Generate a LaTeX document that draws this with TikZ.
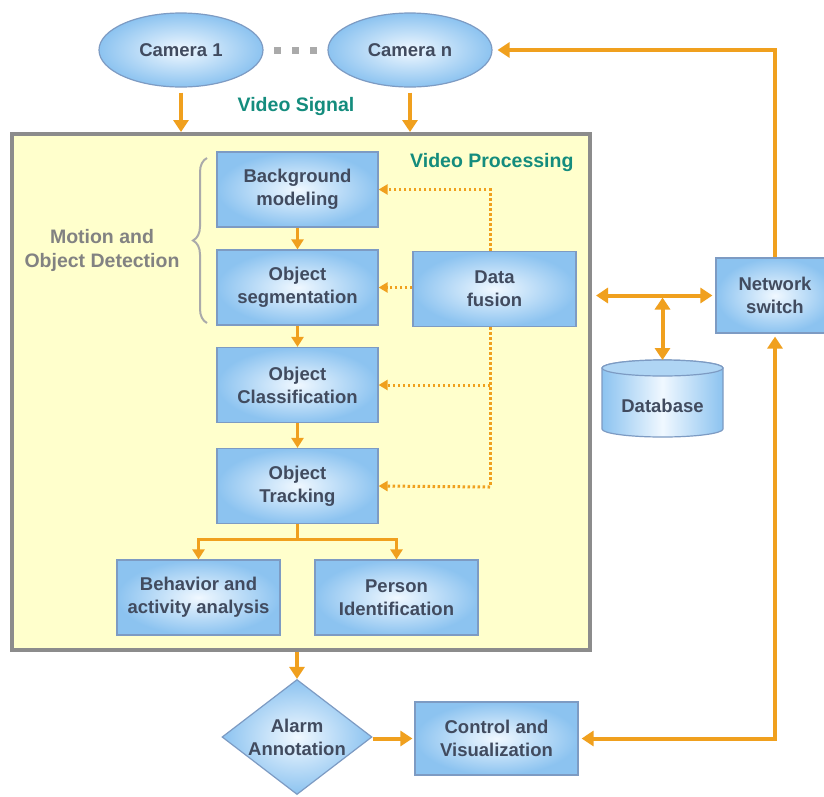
\documentclass[tikz,border=0pt]{standalone}
\usepackage{fontspec}
\setmainfont{Liberation Sans}
\usetikzlibrary{arrows.meta,shapes.geometric,decorations.pathreplacing,calc}
\definecolor{arr}{RGB}{240,160,30}
\definecolor{boxedge}{RGB}{125,155,195}
\definecolor{boxout}{RGB}{140,195,240}
\definecolor{boxin}{RGB}{240,248,255}
\definecolor{txt}{RGB}{65,75,95}
\definecolor{tealtxt}{RGB}{20,140,125}
\definecolor{panelfill}{RGB}{255,255,204}
\definecolor{paneledge}{RGB}{140,140,140}
\definecolor{bracegrey}{RGB}{170,170,170}
\definecolor{modgrey}{RGB}{130,130,130}
\begin{document}
\begin{tikzpicture}[x=1pt,y=-1pt,
  lbl/.style={font=\bfseries\fontsize{18.5}{23}\selectfont,text=txt,align=center},
  box/.style={lbl,rectangle,draw=boxedge,line width=1.2,inner color=boxin,outer color=boxout,minimum width=161,minimum height=75,inner sep=0},
  bigarr/.style={draw=arr,line width=4,-{Triangle[length=12pt,width=15pt]}},
  smarr/.style={draw=arr,line width=3,-{Triangle[length=10pt,width=12pt]}},
  smline/.style={draw=arr,line width=3},
  dotarr/.style={draw=arr,line width=3,dash pattern=on 2.5pt off 2.5pt,-{Triangle[length=9pt,width=10pt]}},
  dotline/.style={draw=arr,line width=3,dash pattern=on 2.5pt off 2.5pt},
  teallbl/.style={font=\bfseries\fontsize{19.5}{22}\selectfont,text=tealtxt}
]
\useasboundingbox (0,0) rectangle (824,796);
\fill[white] (0,0) rectangle (824,796);

% panel
\node[draw=paneledge,line width=4,fill=panelfill,minimum width=578,minimum height=516,inner sep=0] (vp) at (301,392) {};

% cameras
\node[lbl,ellipse,draw=boxedge,line width=1.2,inner color=boxin,outer color=boxout,minimum width=164,minimum height=74] (cam1) at (181,50) {Camera 1};
\node[lbl,ellipse,draw=boxedge,line width=1.2,inner color=boxin,outer color=boxout,minimum width=164,minimum height=74] (camn) at (410,50) {Camera n};
\foreach \xx in {277,295,313} \fill[bracegrey] (\xx-3.5,46.5) rectangle (\xx+3.5,53.5);

\node[teallbl] (vs) at (296,106) {Video Signal};
\node[teallbl,anchor=east] (vpl) at (577,162) {Video Processing};

% boxes
\node[box] (bg) at (297.5,189.5) {Background\\modeling};
\node[box] (seg) at (297.5,287.5) {Object\\segmentation};
\node[box] (cls) at (297.5,385) {Object\\Classification};
\node[box] (trk) at (297.5,486) {Object\\Tracking};
\node[box,minimum width=163] (fus) at (494.5,289) {Data\\fusion};
\node[box,minimum width=118] (sw) at (775,295.5) {Network\\switch};
\node[box,minimum width=163] (beh) at (198.5,597.5) {Behavior and\\activity analysis};
\node[box,minimum width=163] (per) at (396.5,597.5) {Person\\Identification};
\node[box,minimum width=163,minimum height=73] (ctl) at (496.5,738.5) {Control and\\Visualization};

% diamond
\node[diamond,draw=boxedge,line width=1.2,inner color=boxin,outer color=boxout,minimum width=150,minimum height=115,inner sep=0] (alarm) at (297,737) {};
\node[lbl] (alarmtxt) at (alarm.center) {Alarm\\Annotation};

% database cylinder
\path[draw=boxedge,line width=1.2,left color=boxout,right color=boxout,middle color=boxin]
  (602,368) -- (602,429) arc[start angle=180,end angle=360,x radius=60.5pt,y radius=8pt]
  -- (723,368) arc[start angle=0,end angle=180,x radius=60.5pt,y radius=8pt] -- cycle;
\draw[boxedge,line width=1.2,fill=boxout!70!white] (662.5,368) ellipse[x radius=60.5pt,y radius=8pt];
\node[lbl] (db) at (662.5,406) {Database};
\coordinate (dbtop) at (662.5,360);

% motion and object detection
\node[font=\bfseries\fontsize{19.5}{24}\selectfont,text=modgrey,align=center] (mod) at (102,250) {Motion and\\Object Detection};
\draw[bracegrey,line width=2,decorate,decoration={brace,amplitude=14pt,aspect=0.5}] (207,323) -- (207,158);

% camera arrows
\draw[bigarr,shorten <=5pt] (cam1.south) -- (cam1.south |- vp.north);
\draw[bigarr,shorten <=5pt] (camn.south) -- (camn.south |- vp.north);

% inner solid arrows
\draw[smarr] (bg.south) -- (seg.north);
\draw[smarr] (seg.south) -- (cls.north);
\draw[smarr] (cls.south) -- (trk.north);
\coordinate (sp) at (297.5,539);
\draw[smline] (trk.south) -- (sp);
\draw[smarr] (sp) -| (beh.north);
\draw[smarr] (sp) -| (per.north);

% dotted data fusion arrows
\coordinate (d1) at (490,190);
\coordinate (d2) at (490,487);
\draw[dotarr] (fus.north -| d1) |- (bg.east);
\draw[dotarr] (fus.west |- seg.east) -- (seg.east);
\draw[dotline] (fus.south -| d2) -- (d2);
\draw[dotarr] (cls.east -| d2) -- (cls.east);
\draw[dotarr] (d2) -- (trk.east);

% network
\draw[bigarr,{Triangle[length=12pt,width=15pt]}-{Triangle[length=12pt,width=15pt]},shorten <=4pt,shorten >=3pt] (vp.east |- sw.west) -- (sw.west);
\draw[bigarr,{Triangle[length=12pt,width=15pt]}-{Triangle[length=12pt,width=15pt]},shorten >=2pt] (dbtop) -- (dbtop |- sw.west);
\draw[bigarr,shorten >=5pt] (sw.north) |- (camn.east);
\draw[bigarr,{Triangle[length=12pt,width=15pt]}-{Triangle[length=12pt,width=15pt]},shorten <=3pt,shorten >=3pt] (ctl.east) -| (sw.south);

% bottom
\draw[bigarr] (alarm.north |- vp.south) -- (alarm.north);
\draw[bigarr,shorten >=2pt] (alarm.east |- ctl.west) -- (ctl.west);
\end{tikzpicture}
\end{document}
